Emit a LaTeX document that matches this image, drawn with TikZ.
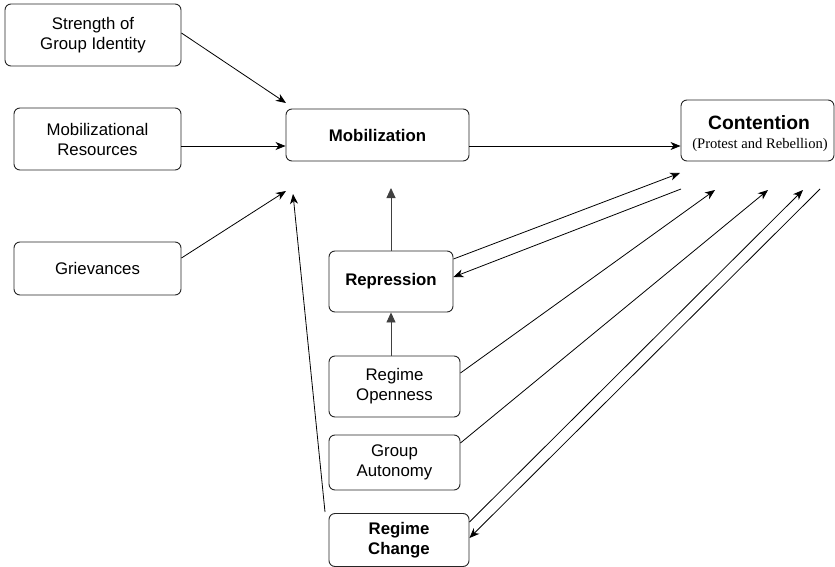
\documentclass[tikz,border=0pt]{standalone}
\usepackage{fontspec}
\setmainfont{Liberation Sans}
\newfontfamily\timesf{Liberation Serif}
\usetikzlibrary{arrows.meta}
\tikzset{
  box/.style={draw=black!85, line width=0.9pt, rounded corners=6pt, inner sep=0pt, align=center,
    font=\fontsize{16.8}{20}\selectfont},
  arr/.style={draw=black, line width=0.8pt, -{Stealth[length=10pt,width=8pt,inset=3pt]}},
  tarr/.style={draw=black!75, line width=0.9pt, -{Triangle[length=10pt,width=9pt]}},
  ln/.style={draw=black, line width=0.8pt}
}
\begin{document}
\begin{tikzpicture}[x=1pt,y=-1pt]
\useasboundingbox (0,0) rectangle (835,567);
\node[box, minimum width=176pt, minimum height=62pt] (sgi) at (93,35) {Strength of\\Group Identity};
\node[box, minimum width=167pt, minimum height=62pt] (mr) at (97.5,139) {Mobilizational\\Resources};
\node[box, minimum width=167pt, minimum height=53pt] (gr) at (97.5,268.5) {Grievances};
\node[box, minimum width=183pt, minimum height=52pt] (mob) at (377.5,135) {\bfseries Mobilization};
\node[box, minimum width=153pt, minimum height=61pt] (cont) at (757.5,130.5) {};
\node[font=\fontsize{19.3}{22}\selectfont\bfseries] (ctitle) at (759,123) {Contention};
\node[font=\timesf\fontsize{14.6}{17}\selectfont] (csub) at (760,145) {(Protest and Rebellion)};
\node[box, minimum width=124pt, minimum height=61pt] (rep) at (391,281.5) {\bfseries Repression};
\node[box, minimum width=131pt, minimum height=61pt] (ro) at (394.5,386.5) {Regime\\Openness};
\node[box, minimum width=131pt, minimum height=55pt] (ga) at (394.5,462.5) {Group\\Autonomy};
\node[box, minimum width=140pt, minimum height=53pt] (rc) at (399,540) {\bfseries Regime\\\bfseries Change};

% free ends
\coordinate (t1) at (286,103);
\coordinate (t2) at (286,191);
\coordinate (t3) at (293,194);
\coordinate (t4) at (391,188);
\coordinate (c1) at (680,173);
\coordinate (c2) at (681,189);
\coordinate (c3) at (715,190);
\coordinate (c4) at (768,190);
\coordinate (c5) at (803,190);
\coordinate (c6) at (820,189);
\coordinate (rcs) at (325,512);

\draw[arr] (sgi.east |- 0,33) -- (t1);
\draw[arr] (mr.east |- 0,146) -- (mob.west |- 0,146);
\draw[arr] (gr.east |- 0,258) -- (t2);
\draw[arr] (rcs) -- (t3);
\draw[tarr] (rep.north) -- (t4);
\draw[tarr] (ro.north -| rep.north) -- (rep.south);
\draw[arr] (mob.east |- 0,146) -- (cont.west |- 0,146);
\draw[arr] (rep.east |- 0,259) -- (c1);
\draw[arr] (c2) -- (rep.east |- 0,277);
\draw[arr] (ro.east |- 0,373) -- (c3);
\draw[arr] (ga.east |- 0,443) -- (c4);
\draw[arr] (rc.east |- 0,522) -- (c5);
\draw[arr] (c6) -- (rc.east |- 0,538);
\end{tikzpicture}
\end{document}
